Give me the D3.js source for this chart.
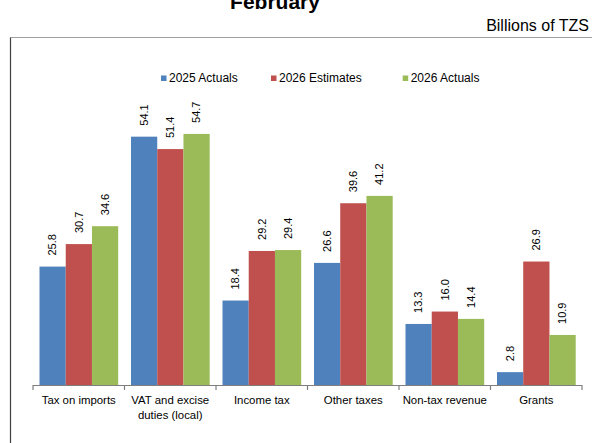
<!DOCTYPE html>
<html>
<head>
<meta charset="utf-8">
<script src="https://cdn.jsdelivr.net/npm/d3@7"></script>
<style>
  html, body { margin: 0; padding: 0; background: #fff; }
  svg { display: block; font-family: "Liberation Sans", Arial, sans-serif; }
</style>
</head>
<body>
<svg id="chart" width="592" height="443"></svg>
<script>
const categories = [["Tax on imports"], ["VAT and excise", "duties (local)"], ["Income tax"], ["Other taxes"], ["Non-tax revenue"], ["Grants"]];
const seriesNames = ["2025 Actuals", "2026 Estimates", "2026 Actuals"];
const actuals2025 = [25.8, 54.1, 18.4, 26.6, 13.3, 2.8];
const estimates2026 = [30.7, 51.4, 29.2, 39.6, 16.0, 26.9];
const actuals2026 = [34.6, 54.7, 29.4, 41.2, 14.4, 10.9];
const colors = ["#4F81BD", "#C0504D", "#9BBB59"];

const series = [actuals2025, estimates2026, actuals2026];
const svg = d3.select("#chart");

// title and unit
svg.append("text").attr("x", 275).attr("y", 8.5).attr("text-anchor", "middle")
  .attr("font-size", 21).attr("font-weight", "bold").attr("fill", "#000").text("February");
svg.append("text").attr("x", 589).attr("y", 31).attr("text-anchor", "end")
  .attr("font-size", 16).attr("fill", "#000").text("Billions of TZS");

// frame
svg.append("line").attr("x1", 10.5).attr("x2", 592).attr("y1", 37.5).attr("y2", 37.5)
  .attr("stroke", "#a0a0a0").attr("stroke-width", 1.2);
svg.append("line").attr("x1", 10.5).attr("x2", 10.5).attr("y1", 37.5).attr("y2", 443)
  .attr("stroke", "#404040").attr("stroke-width", 1.2);

// scales
const catIdx = d3.range(categories.length);
const x0 = d3.scaleBand().domain(catIdx).range([33, 582]).padding(0);
const x1 = d3.scaleBand().domain(d3.range(series.length)).range([6.5, 85.2]).padding(0);
const y = d3.scaleLinear().domain([0, 60]).range([385, 109.6]);

// bars
const groups = svg.append("g").selectAll("g").data(catIdx).join("g")
  .attr("transform", i => `translate(${x0(i)},0)`);
groups.selectAll("rect").data(i => series.map((s, k) => ({k, v: s[i]}))).join("rect")
  .attr("x", d => x1(d.k)).attr("width", x1.bandwidth())
  .attr("y", d => y(d.v)).attr("height", d => y(0) - y(d.v))
  .attr("fill", d => colors[d.k]);
groups.selectAll("text.val").data(i => series.map((s, k) => ({k, v: s[i]}))).join("text")
  .attr("class", "val")
  .attr("transform", d => `translate(${x1(d.k) + x1.bandwidth() / 2},${y(d.v) - 11}) rotate(-90)`)
  .attr("dy", "0.35em").attr("font-size", 11).attr("fill", "#000")
  .text(d => d.v.toFixed(1));

// axis
const axisG = svg.append("g");
axisG.append("line").attr("x1", x0.range()[0]).attr("x2", x0.range()[1])
  .attr("y1", y(0) + 0.5).attr("y2", y(0) + 0.5).attr("stroke", "#7f7f7f").attr("stroke-width", 1.2);
const tickPos = catIdx.map(i => x0(i)).concat([x0.range()[1]]);
axisG.selectAll("line.tick").data(tickPos).join("line").attr("class", "tick")
  .attr("x1", d => d).attr("x2", d => d).attr("y1", y(0)).attr("y2", y(0) + 5)
  .attr("stroke", "#7f7f7f").attr("stroke-width", 1.2);
const labels = axisG.selectAll("text.cat").data(catIdx).join("text").attr("class", "cat")
  .attr("x", i => x0(i) + x0.bandwidth() / 2).attr("y", 404)
  .attr("text-anchor", "middle").attr("font-size", 11.4).attr("fill", "#000");
labels.selectAll("tspan").data(i => categories[i]).join("tspan")
  .attr("x", function() { return this.parentNode.getAttribute("x"); })
  .attr("dy", (d, j) => j === 0 ? 0 : 15).text(d => d);

// legend
const legendX = [161, 271, 402.7];
const lg = svg.append("g").selectAll("g").data(seriesNames).join("g")
  .attr("transform", (d, i) => `translate(${legendX[i]},0)`);
lg.append("rect").attr("x", 0).attr("y", 75.5).attr("width", 5.5).attr("height", 5.5)
  .attr("fill", (d, i) => colors[i]);
lg.append("text").attr("x", 8).attr("y", 82.3).attr("font-size", 12).attr("fill", "#000").text(d => d);
</script>
</body>
</html>
